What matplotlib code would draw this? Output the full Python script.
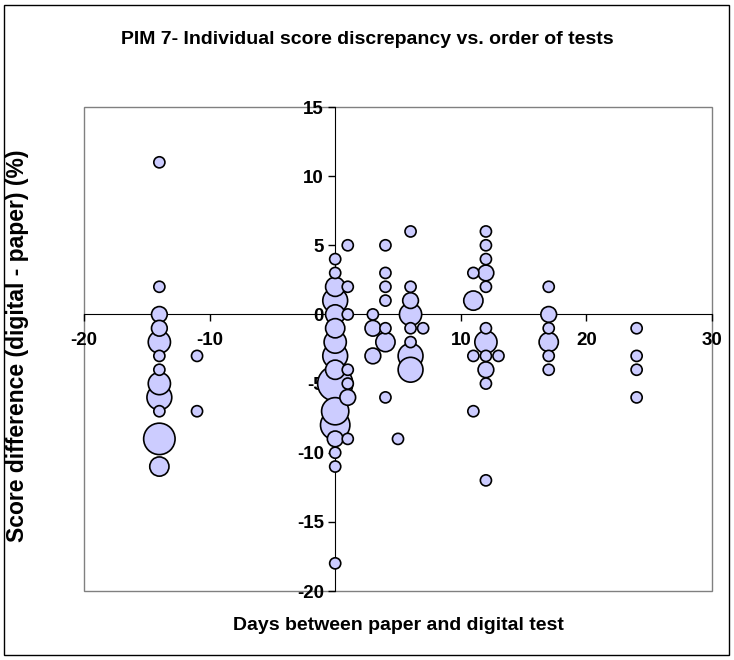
import matplotlib
matplotlib.use("Agg")
import matplotlib.pyplot as plt
from matplotlib.patches import Rectangle
import numpy as np

plt.rcParams['font.family'] = ['Liberation Sans', 'DejaVu Sans']

title = "PIM 7- Individual score discrepancy vs. order of tests"
xlabel = "Days between paper and digital test"
ylabel = "Score difference (digital - paper) (%)"

# Days between tests, score difference, number of pupils (bubble size)
days = [-14]*12 + [-11]*2 + [0]*16 + [1]*7 + [3]*3 + [4]*7 + [5] + [6]*8 + [7] \
     + [11]*4 + [12]*11 + [13] + [17]*6 + [24]*4
diffs = [11, 2, 0, -1, -2, -3, -4, -5, -6, -7, -9, -11,
         -3, -7,
         4, 3, 2, 1, 0, -1, -2, -3, -4, -5, -7, -8, -9, -10, -11, -18,
         5, 2, 0, -4, -5, -6, -9,
         0, -1, -3,
         5, 3, 2, 1, -1, -2, -6,
         -9,
         6, 2, 1, 0, -1, -2, -3, -4,
         -1,
         3, 1, -3, -7,
         6, 5, 4, 3, 2, -1, -2, -3, -4, -5, -12,
         -3,
         2, 0, -1, -2, -3, -4,
         -1, -3, -4, -6]
counts = [1, 1, 2, 2, 4, 1, 1, 4, 5, 1, 8, 3,
          1, 1,
          1, 1, 3, 5, 3, 3, 4, 5, 3, 10, 6, 7, 2, 1, 1, 1,
          1, 1, 1, 1, 1, 2, 1,
          1, 2, 2,
          1, 1, 1, 1, 1, 3, 1,
          1,
          1, 1, 2, 4, 1, 1, 5, 5,
          1,
          1, 3, 1, 1,
          1, 1, 1, 2, 1, 1, 4, 1, 2, 1, 1,
          1,
          1, 2, 1, 3, 1, 1,
          1, 1, 1, 1]

xticks = [-20, -10, 0, 10, 20, 30]
yticks = [-20, -15, -10, -5, 0, 5, 10, 15]

W, H = 734, 660
fig = plt.figure(figsize=(W/100, H/100), dpi=100)
fig.patch.set_facecolor('white')
# outer chart frame
fig.add_artist(Rectangle((4/W, 5/H), 725/W, 650/H, transform=fig.transFigure,
                         fill=False, ec='black', lw=1.0))

ax = fig.add_axes([84/W, 1-591/H, (712-84)/W, (591-107)/H])
ax.set_xlim(-20, 30)
ax.set_ylim(-20, 15)

x = np.array(days, dtype=float)
y = np.array(diffs, dtype=float)
n = np.array(counts, dtype=float)
order = np.argsort(-n, kind='stable')
ax.scatter(x[order], y[order], s=n[order]*64, c='#CCCCFF', edgecolors='black',
           linewidths=1.2, zorder=3)

for s in ['top', 'right']:
    ax.spines[s].set_visible(False)
ax.spines['left'].set_position(('data', 0))
ax.spines['bottom'].set_position(('data', 0))
ax.spines['left'].set_color('black')
ax.spines['bottom'].set_color('black')
ax.spines['left'].set_zorder(2)
ax.spines['bottom'].set_zorder(2)
ax.add_patch(Rectangle((0, 0), 1, 1, transform=ax.transAxes, fill=False,
                       ec='#808080', lw=1.0, zorder=1, clip_on=False))

ax.set_xticks(xticks)
ax.set_yticks(yticks)
ax.set_xticklabels([str(v) for v in xticks], fontweight='bold', fontsize=13.5)
ax.set_yticklabels([str(v) for v in yticks], fontweight='bold', fontsize=13.5)
ax.tick_params(axis='both', direction='out', length=5, width=1, color='black')
ax.tick_params(axis='x', pad=8)
ax.tick_params(axis='y', pad=3)

fig.text(367/W, 1-40/H, title, ha='center', va='center', fontsize=14, fontweight='bold')
fig.text(398/W, 1-625/H, xlabel, ha='center', va='center', fontsize=14, fontweight='bold')
fig.text(18/W, 1-346/H, ylabel, ha='center', va='center', fontsize=16.5, fontweight='bold',
         rotation=90)

fig.savefig('out.png', dpi=100, facecolor='white')
